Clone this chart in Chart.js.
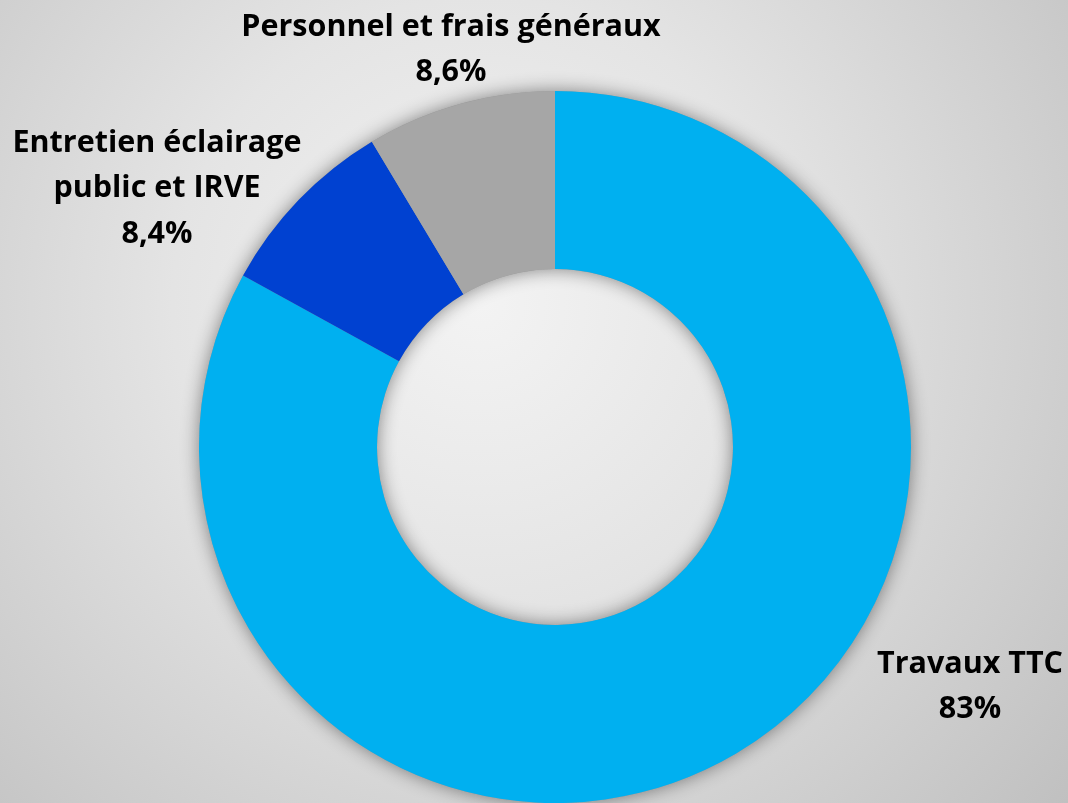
<!DOCTYPE html>
<html>
<head>
<meta charset="utf-8">
<script src="https://cdn.jsdelivr.net/npm/chart.js@4/dist/chart.umd.min.js"></script>
<style>
  html, body { margin: 0; padding: 0; }
  body { width: 1068px; height: 803px; overflow: hidden;
    background: radial-gradient(circle at 45% 38%, #f3f3f3 0%, #e4e4e4 40%, #c9c9c9 85%, #c0c0c0 100%); }
  #wrap { position: relative; width: 1068px; height: 803px; }
</style>
</head>
<body>
<div id="wrap"><canvas id="donut"></canvas></div>
<script>
const categories = ["Travaux TTC", "Entretien éclairage public et IRVE", "Personnel et frais généraux"];
const values = [83, 8.4, 8.6];
const valueLabels = ["83%", "8,4%", "8,6%"];
const colors = ["#00b0f0", "#0041d1", "#a6a6a6"];

// label lines and where their block is centred
const labelLines = [
  ["Travaux TTC", valueLabels[0]],
  ["Entretien éclairage", "public et IRVE", valueLabels[1]],
  ["Personnel et frais généraux", valueLabels[2]]
];
const labelPos = [[970, 664], [157, 143], [451, 27]];

const ringShadow = {
  id: "ringShadow",
  beforeDatasetsDraw(chart) {
    const arc = chart.getDatasetMeta(0).data[0];
    if (!arc) return;
    const ctx = chart.ctx;
    ctx.save();
    ctx.shadowColor = "rgba(0,0,0,0.45)";
    ctx.shadowBlur = 18;
    ctx.fillStyle = "#999";
    ctx.beginPath();
    ctx.arc(arc.x, arc.y, arc.outerRadius, 0, Math.PI * 2);
    ctx.arc(arc.x, arc.y, arc.innerRadius, 0, Math.PI * 2, true);
    ctx.fill();
    ctx.restore();
  }
};

const outsideLabels = {
  id: "outsideLabels",
  afterDraw(chart) {
    const ctx = chart.ctx;
    ctx.save();
    // size the font so the widest label is as wide as in the original
    ctx.font = "bold 30px 'Open Sans'";
    const w = ctx.measureText("Personnel et frais généraux").width;
    const size = 30 * 420 / w;
    ctx.font = "bold " + size.toFixed(1) + "px 'Open Sans'";
    ctx.fillStyle = "#000";
    ctx.textAlign = "center";
    ctx.textBaseline = "middle";
    labelLines.forEach((lines, i) => {
      lines.forEach((t, j) => {
        ctx.fillText(t, labelPos[i][0], labelPos[i][1] + j * 45.5);
      });
    });
    ctx.restore();
  }
};

new Chart(document.getElementById("donut"), {
  type: "doughnut",
  data: {
    labels: categories,
    datasets: [{
      data: values,
      backgroundColor: colors,
      borderWidth: 0
    }]
  },
  options: {
    responsive: true,
    maintainAspectRatio: false,
    animation: false,
    cutout: "50%",
    layout: { padding: { top: 91, bottom: 0, left: 199, right: 157 } },
    plugins: {
      legend: { display: false },
      tooltip: { enabled: false }
    }
  },
  plugins: [ringShadow, outsideLabels]
});
</script>
</body>
</html>
